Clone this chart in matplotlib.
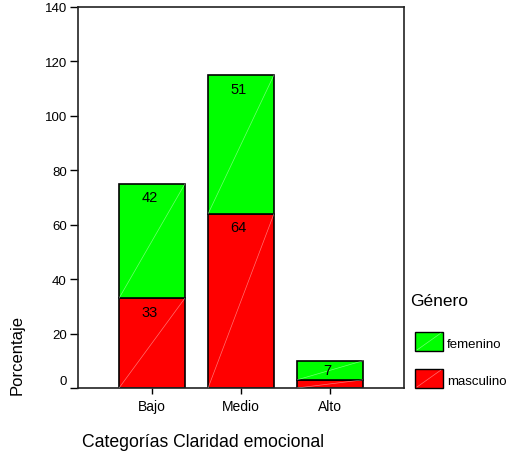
import numpy as np
import matplotlib
matplotlib.use('Agg')
import matplotlib.pyplot as plt
from matplotlib.patches import Rectangle

plt.rcParams['font.family'] = ['Liberation Sans', 'DejaVu Sans']

categorias = ['Bajo', 'Medio', 'Alto']
masculino = [33, 64, 3]
femenino = [42, 51, 7]
colores = {'masculino': '#ff0000', 'femenino': '#00ff00'}
yticks = [0, 20, 40, 60, 80, 100, 120, 140]

W, H = 510, 460
fig = plt.figure(figsize=(W / 100, H / 100), dpi=100)
ax = fig.add_axes([78 / W, 1 - 389 / H, 326 / W, 381 / H])

x = np.arange(len(categorias))
width = 0.74
bottom = np.zeros(len(categorias))
for name, vals in [('masculino', masculino), ('femenino', femenino)]:
  vals = np.array(vals, dtype=float)
  ax.bar(x, vals, width, bottom=bottom, color=colores[name],
         edgecolor='black', linewidth=1.2, zorder=2)
  # thin white diagonal across each segment
  for xi, b, v in zip(x, bottom, vals):
    ax.plot([xi - width / 2, xi + width / 2], [b, b + v], color='white',
            lw=0.5, alpha=0.45, zorder=3)
    if v >= 5:
      ax.text(xi - 0.025, b + v - min(5, v / 2), '%d' % v, ha='center',
              va='center', fontsize=10.5, zorder=4)
  bottom += vals

ax.set_xlim(-0.831, 2.831)
ax.set_ylim(0, 140)
ax.set_xticks(x)
ax.set_xticklabels(categorias, fontsize=10)
ax.set_yticks(yticks)
# zero label is drawn separately, a little above its tick
ax.set_yticklabels([str(t) if t else '' for t in yticks], fontsize=9.5)
ax.annotate(str(yticks[0]), xy=(0, yticks[0]),
            xycoords=('axes fraction', 'data'), xytext=(-8, 5),
            textcoords='offset points', ha='right', va='center',
            fontsize=9.5)
ax.tick_params(axis='y', length=6, width=1, pad=2)
ax.tick_params(axis='x', length=4, width=1, pad=4)
for s in ax.spines.values():
  s.set_linewidth(1.2)
  s.set_color('#222222')

fig.text(17 / W, 1 - 355 / H, 'Porcentaje', rotation=90, ha='center',
         va='center', fontsize=12)
fig.text(82 / W, 1 - 443 / H, 'Categorías Claridad emocional', ha='left',
         va='center', fontsize=12.7)

# legend
fig.text(410 / W, 1 - 301 / H, 'Género', ha='left', va='center',
         fontsize=12.5)
for i, name in enumerate(['femenino', 'masculino']):
  top = 333 + i * 37
  fig.add_artist(Rectangle((415 / W, 1 - (top + 19) / H), 28 / W, 19 / H,
                           transform=fig.transFigure,
                           facecolor=colores[name], edgecolor='black',
                           linewidth=1))
  fig.add_artist(plt.Line2D([417 / W, 441 / W],
                            [1 - (top + 18) / H, 1 - (top + 1) / H],
                            transform=fig.transFigure, color='white',
                            lw=0.5, alpha=0.45))
  fig.text(447 / W, 1 - (top + 12) / H, name, ha='left', va='center',
           fontsize=9.5)

fig.savefig('out.png', dpi=100)
